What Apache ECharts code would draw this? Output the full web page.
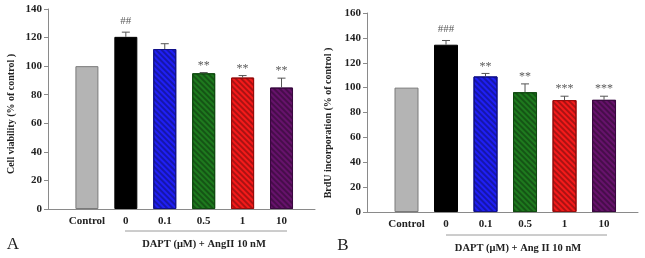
<!DOCTYPE html>
<html lang="en">
<head>
	<meta charset="UTF-8">
	<title>DAPT viability / BrdU</title>
	<script type="text/javascript" src="https://cdn.jsdelivr.net/npm/echarts@6/dist/echarts.min.js"></script>
	<style>
		html, body { margin: 0; padding: 0; background: #fff; }
		#main { width: 645px; height: 258px; }
	</style>
</head>
<body>
	<div id="main"></div>
	<script type="text/javascript">
		// data
		var categories = ['Control', '0', '0.1', '0.5', '1', '10'];
		var viabilityMean = [100, 120.5, 112, 95, 92, 85];
		var viabilityErr = [0, 3.3, 3.7, 0.5, 1.4, 6.6];
		var viabilitySig = ['', '##', '', '**', '**', '**'];
		var brduMean = [100, 134.5, 109, 96.3, 90, 90.2];
		var brduErr = [0, 3.4, 2.4, 6.7, 3.1, 2.9];
		var brduSig = ['', '###', '**', '**', '***', '***'];
		var viabilityTicks = [0, 140, 20];
		var brduTicks = [0, 160, 20];

		var barColors = ['#b4b4b4', '#000000', '#1f1ff5', '#1e7a1e', '#f51a1a', '#66126b'];
		var borderColors = ['#7a7a7a', '#000000', '#10108a', '#0f4a0f', '#9a0c0c', '#3a0840'];
		var hatched = [false, false, true, true, true, true];

		var serif = '"Liberation Serif", "DejaVu Serif", serif';

		var barData = function(means){
			var out = [];
			for(var i=0;i<means.length;i++){
				var st = {
					color: barColors[i],
					borderColor: borderColors[i],
					borderWidth: 1
				};
				if(hatched[i]){
					st.decal = {
						symbol: 'rect',
						symbolSize: 1,
						dashArrayX: [1, 0],
						dashArrayY: [1.5, 2],
						rotation: Math.PI / 4,
						color: 'rgba(0,0,0,0.3)'
					};
				}
				out.push({ value: [i, means[i]], itemStyle: st });
			}
			return out;
		};

		var errData = function(means, errs){
			var out = [];
			for(var i=0;i<means.length;i++){
				out.push([i, means[i], errs[i]]);
			}
			return out;
		};

		var errRender = function(sig){
			return function(params, api){
				var x = api.value(0), m = api.value(1), e = api.value(2);
				var p0 = api.coord([x, m]);
				var p1 = api.coord([x, m + e]);
				var kids = [];
				if(e > 0){
					kids.push({ type: 'line', shape: { x1: p0[0], y1: p0[1], x2: p1[0], y2: p1[1] },
						style: { stroke: '#555', lineWidth: 1 } });
					kids.push({ type: 'line', shape: { x1: p1[0] - 4, y1: p1[1], x2: p1[0] + 4, y2: p1[1] },
						style: { stroke: '#555', lineWidth: 1 } });
				}
				var s = sig[params.dataIndex];
				if(s){
					var isHash = s.charAt(0) === '#';
					kids.push({ type: 'text', x: p1[0], y: p1[1] - (isHash ? 6 : 1),
						style: { text: s, fill: '#5a5a5a', font: (isHash ? 'normal 11px ' : 'normal 12px ') + serif,
							align: 'center', verticalAlign: 'bottom' } });
				}
				return { type: 'group', children: kids };
			};
		};

		var makeX = function(idx){
			return {
				type: 'value', gridIndex: idx, min: -1, max: 5.86, interval: 1,
				axisLine: { show: true, onZero: false, lineStyle: { color: '#8a8a8a', width: 1 } },
				axisTick: { show: false },
				splitLine: { show: false },
				axisLabel: {
					margin: 7,
					fontFamily: serif, fontWeight: 'bold', fontSize: 11, color: '#222',
					showMinLabel: true, showMaxLabel: false,
					formatter: function(v){
						return (v >= 0 && v === Math.round(v) && v < categories.length) ? categories[v] : '';
					}
				}
			};
		};

		var makeY = function(idx, ticks){
			return {
				type: 'value', gridIndex: idx, min: ticks[0], max: ticks[1], interval: ticks[2],
				axisLine: { show: true, onZero: false, lineStyle: { color: '#8a8a8a', width: 1 } },
				axisTick: { show: true, length: 4, lineStyle: { color: '#8a8a8a' } },
				splitLine: { show: false },
				axisLabel: { fontFamily: serif, fontWeight: 'bold', fontSize: 11, color: '#222', margin: 6 }
			};
		};

		var chart = echarts.init(document.getElementById('main'), null, { renderer: 'canvas' });

		var option = {
			animation: false,
			backgroundColor: '#fff',
			grid: [
				{ left: 48, top: 9, width: 267, height: 200 },
				{ left: 367, top: 13, width: 271, height: 199 }
			],
			xAxis: [makeX(0), makeX(1)],
			yAxis: [makeY(0, viabilityTicks), makeY(1, brduTicks)],
			series: [
				{ type: 'bar', xAxisIndex: 0, yAxisIndex: 0, barWidth: 23, data: barData(viabilityMean) },
				{ type: 'custom', xAxisIndex: 0, yAxisIndex: 0, renderItem: errRender(viabilitySig),
					data: errData(viabilityMean, viabilityErr), z: 5 },
				{ type: 'bar', xAxisIndex: 1, yAxisIndex: 1, barWidth: 24, data: barData(brduMean) },
				{ type: 'custom', xAxisIndex: 1, yAxisIndex: 1, renderItem: errRender(brduSig),
					data: errData(brduMean, brduErr), z: 5 }
			],
			graphic: [
				// axis titles
				{ type: 'text', x: 11, y: 114, rotation: Math.PI / 2, style: { text: 'Cell viability (% of control )',
					font: 'bold 10px ' + serif, fill: '#222', align: 'center', verticalAlign: 'middle' } },
				{ type: 'text', x: 328, y: 123, rotation: Math.PI / 2, style: { text: 'BrdU incorporation (% of control )',
					font: 'bold 10px ' + serif, fill: '#222', align: 'center', verticalAlign: 'middle' } },
				// group brackets and captions
				{ type: 'line', shape: { x1: 125, y1: 231, x2: 287, y2: 231 }, style: { stroke: '#9a9a9a', lineWidth: 1 } },
				{ type: 'text', x: 204, y: 244, style: { text: 'DAPT (μM) + AngII 10 nM', font: 'bold 10.5px ' + serif,
					fill: '#222', align: 'center', verticalAlign: 'middle' } },
				{ type: 'text', x: 13, y: 245, style: { text: 'A', font: 'normal 17px ' + serif,
					fill: '#222', align: 'center', verticalAlign: 'middle' } },
				{ type: 'line', shape: { x1: 446, y1: 235, x2: 607, y2: 235 }, style: { stroke: '#9a9a9a', lineWidth: 1 } },
				{ type: 'text', x: 518, y: 248, style: { text: 'DAPT (μM) + Ang II 10 nM', font: 'bold 10.5px ' + serif,
					fill: '#222', align: 'center', verticalAlign: 'middle' } },
				{ type: 'text', x: 343, y: 246, style: { text: 'B', font: 'normal 17px ' + serif,
					fill: '#222', align: 'center', verticalAlign: 'middle' } }
			]
		};

		chart.setOption(option);
	</script>
</body>
</html>
